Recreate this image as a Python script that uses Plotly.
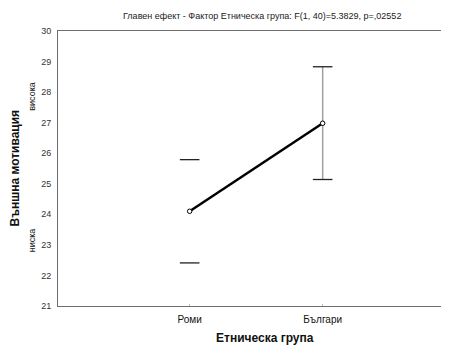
import plotly.graph_objects as go

categories = ["Роми", "Българи"]
means = [24.10, 26.98]
err_plus = [1.69, 1.85]
err_minus = [1.69, 1.84]
y_ticks = [21, 22, 23, 24, 25, 26, 27, 28, 29, 30]

title_text = "Главен ефект - Фактор Етническа група: F(1, 40)=5.3829, p=,02552"
x_title = "Етническа група"
y_title = "Външна мотивация"
y_high = "висока"
y_low = "ниска"

FONT = "Liberation Sans, Arial, sans-serif"
xs = list(range(len(categories)))

fig = go.Figure()

# vertical part of the CI (visible only for the second group in the reference)
fig.add_trace(go.Scatter(
    x=[xs[1]], y=[means[1]], mode="markers",
    marker=dict(size=1, color="rgba(0,0,0,0)"),
    error_y=dict(type="data", symmetric=False, array=[err_plus[1]],
                 arrayminus=[err_minus[1]], color="#a0a0a0", thickness=1.5, width=0),
    showlegend=False, hoverinfo="skip"))

# caps
cap_x = xs + xs
cap_y = [m + p for m, p in zip(means, err_plus)] + [m - n for m, n in zip(means, err_minus)]
fig.add_trace(go.Scatter(
    x=cap_x, y=cap_y, mode="markers",
    marker=dict(symbol="line-ew", size=14, line=dict(color="#222222", width=1.3)),
    showlegend=False, hoverinfo="skip"))

# means line
fig.add_trace(go.Scatter(
    x=xs, y=means, mode="lines+markers",
    line=dict(color="black", width=2.5),
    marker=dict(symbol="circle", size=4.5, color="white", line=dict(color="black", width=1)),
    showlegend=False))

fig.update_layout(
    width=441, height=337,
    margin=dict(l=50, r=0, t=23, b=39),
    paper_bgcolor="white", plot_bgcolor="white",
    font=dict(family=FONT, color="#222222"),
    xaxis=dict(range=[-0.99, 1.95], tickvals=xs, ticktext=categories,
               showgrid=False, zeroline=False, showline=True, mirror=True,
               linecolor="#6e6e6e", linewidth=1, ticks="inside", ticklen=2,
               tickcolor="#bbbbbb", ticklabelstandoff=4,
               tickfont=dict(size=10, color="#111111")),
    yaxis=dict(range=[21, 30], tickvals=y_ticks, showgrid=False, zeroline=False,
               showline=True, linecolor="#6e6e6e", linewidth=1, ticks="",
               ticklabelstandoff=4, tickfont=dict(size=9, color="#333333")),
    annotations=[
        dict(text=title_text, x=(262 - 58) / (449 - 58), y=1, xref="paper", yref="paper",
             xanchor="center", yanchor="middle", yshift=15,
             showarrow=False, font=dict(size=9, color="#222222")),
        dict(text="<b>" + x_title + "</b>", x=0.53, y=0, xref="paper", yref="paper",
             xanchor="center", yanchor="middle", yshift=-32,
             showarrow=False, font=dict(size=12, color="#111111")),
        dict(text="<b>" + y_title + "</b>", x=0, y=0.5, xref="paper", yref="paper",
             xanchor="center", yanchor="middle", xshift=-44, textangle=-90,
             showarrow=False, font=dict(size=12, color="#111111")),
        dict(text=y_high, x=0, y=27.85, xref="paper", yref="y",
             xanchor="center", yanchor="middle", xshift=-26, textangle=-90,
             showarrow=False, font=dict(size=9, color="#222222")),
        dict(text=y_low, x=0, y=23.15, xref="paper", yref="y",
             xanchor="center", yanchor="middle", xshift=-26, textangle=-90,
             showarrow=False, font=dict(size=9, color="#222222")),
    ],
)

fig.write_html("out.html")
